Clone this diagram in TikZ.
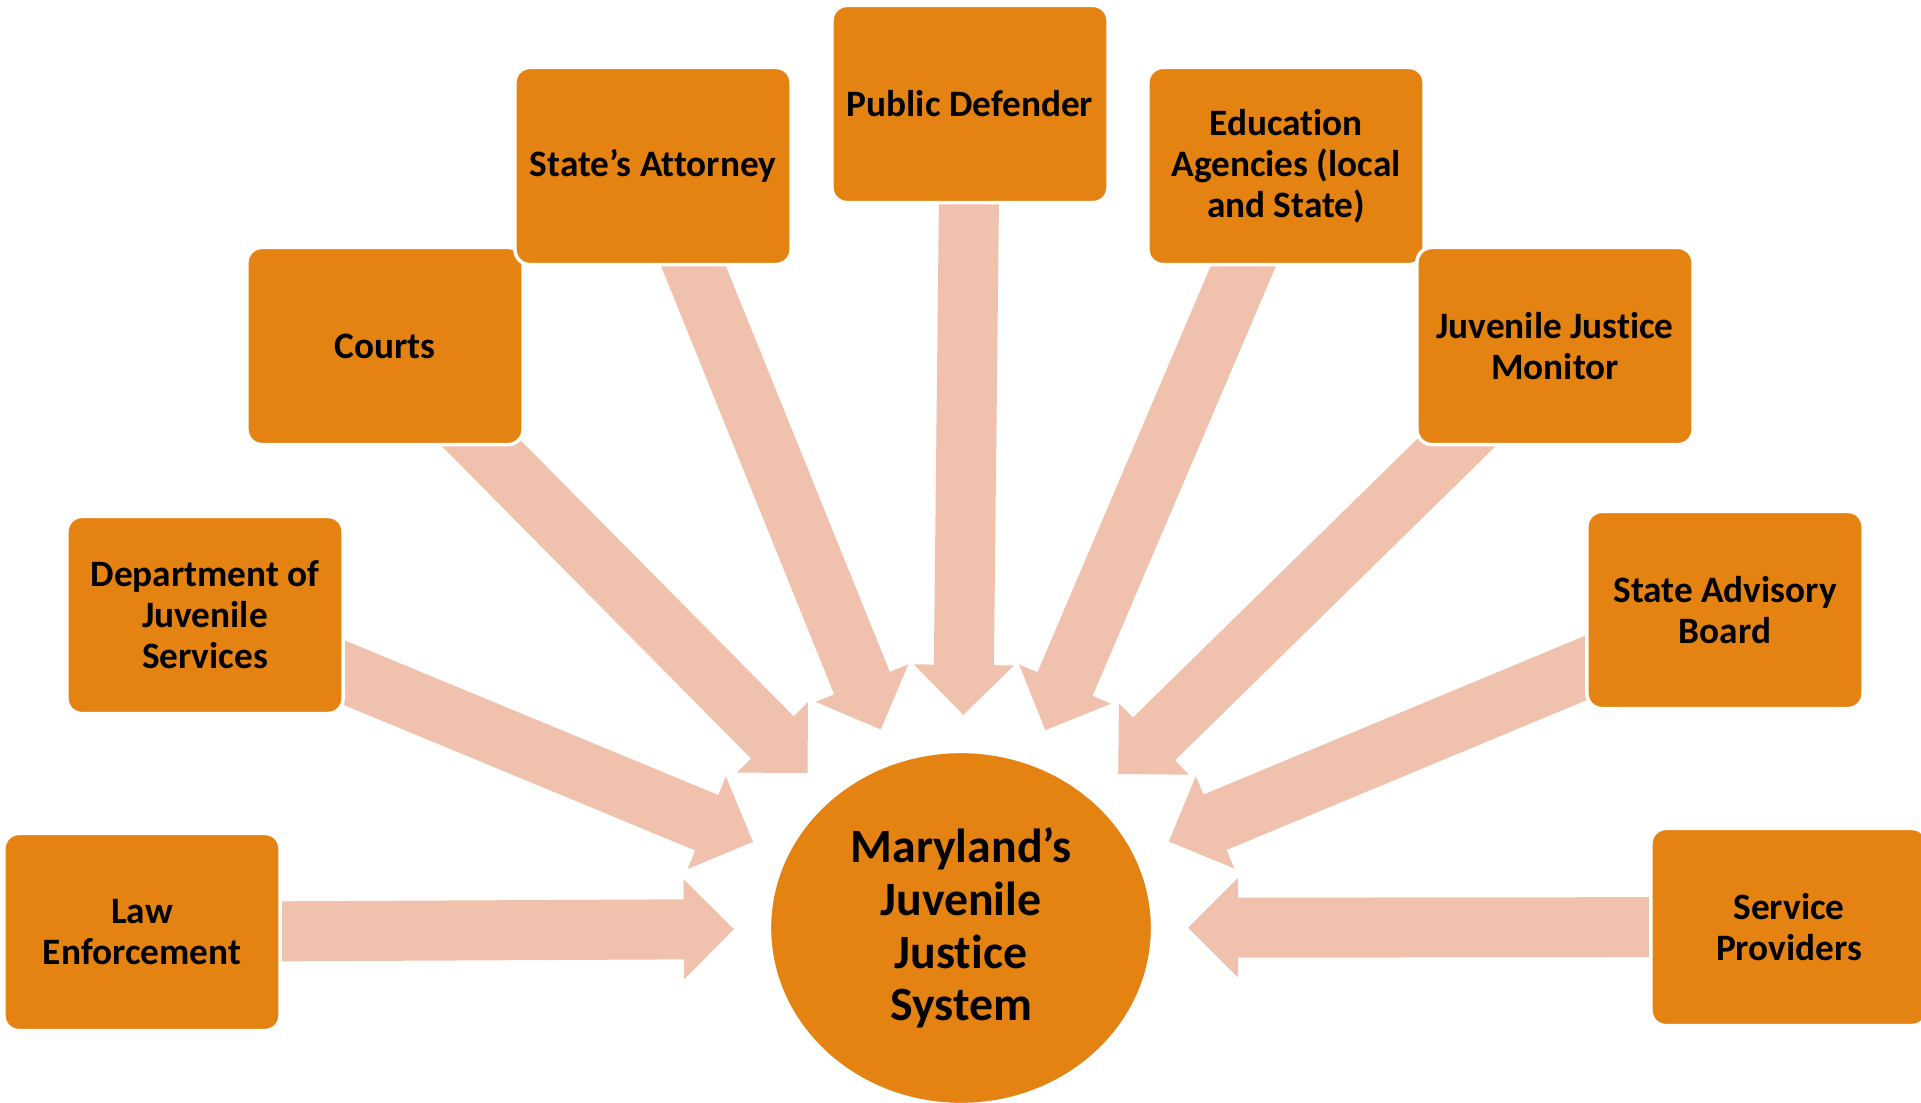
\documentclass[tikz,border=0pt]{standalone}
\usepackage{fontspec}
\setmainfont{Carlito}[Ligatures=NoCommon]
\usetikzlibrary{shapes.geometric,calc,backgrounds}

\definecolor{boxorange}{RGB}{228,130,18}
\definecolor{arrowpeach}{RGB}{240,193,172}

\tikzset{
  agency/.style={rectangle, rounded corners=0.15cm, fill=boxorange, draw=white,
    line width=1pt, minimum width=2.76cm, minimum height=1.97cm, inner sep=0pt,
    align=center, font=\fontsize{10.6}{11.7}\selectfont\bfseries},
  hubnode/.style={ellipse, fill=boxorange, draw=white, line width=1pt,
    minimum width=3.83cm, minimum height=3.53cm, inner sep=0pt,
    align=center, font=\fontsize{13.6}{15}\selectfont\bfseries}
}

% block arrow from #1 to #2: shaft 0.6cm, head 1cm wide and 0.5cm long
\newcommand{\blockarrow}[2]{%
  \coordinate (ba-c) at ($(#2)!0.5cm!(#1)$);
  \fill[arrowpeach] ($(#1)!0.3cm!90:(#2)$) -- ($(ba-c)!0.3cm!-90:(#1)$)
    -- ($(ba-c)!0.5cm!-90:(#1)$) -- (#2) -- ($(ba-c)!0.5cm!90:(#1)$)
    -- ($(ba-c)!0.3cm!90:(#1)$) -- ($(#1)!0.3cm!-90:(#2)$) -- cycle;
}

\begin{document}
\begin{tikzpicture}[x=0.01cm, y=-0.01cm]
    \useasboundingbox (0,0) rectangle (1921,1103);

    % Hub
    \node[hubnode] (hub) at (961,928) {Maryland’s\\Juvenile\\Justice\\System};

    % Agencies, left to right
    \node[agency] (law) at (142,932) {Law\\Enforcement};
    \node[agency] (dept) at (205,615) {Department of\\Juvenile\\Services};
    \node[agency] (courts) at (385,346) {Courts};
    \node[agency] (sa) at (653,166) {State’s Attorney};
    \node[agency] (pd) at (970,104) {Public Defender};
    \node[agency] (edu) at (1286,166) {Education\\Agencies (local\\and State)};
    \node[agency] (jjm) at (1555,346) {Juvenile Justice\\Monitor};
    \node[agency] (sab) at (1725,610) {State Advisory\\Board};
    \node[agency] (sp) at (1789,927) {Service\\Providers};

    % Arrow tips, pointing at the hub
    \foreach \src/\dist in {law/2.27cm, dept/2.25cm, courts/2.18cm, sa/2.14cm,
        pd/2.13cm, edu/2.15cm, jjm/2.2cm, sab/2.25cm, sp/2.27cm}
        \coordinate (tip-\src) at ($(hub.center)!\dist!(\src.center)$);

    % Arrows behind the boxes
    \begin{scope}[on background layer]
        \foreach \src in {law,dept,courts,sa,pd,edu,jjm,sab,sp}{
            \blockarrow{\src.center}{tip-\src}
        }
    \end{scope}
\end{tikzpicture}
\end{document}
